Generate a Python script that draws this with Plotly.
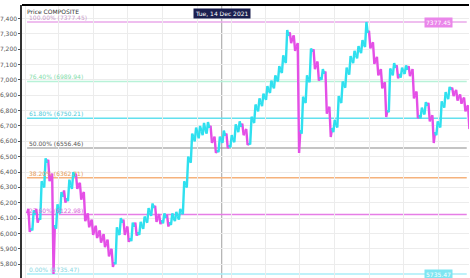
import pandas as pd
import plotly.graph_objects as go

# ---------------- data (weekly OHLC) ----------------
week_start = "2021-01-04"
n_weeks = 112
opens = [6130, 6035, 6120, 6100, 6315, 6459, 6367, 6055, 6152, 6237,
         6231, 6315, 6367, 6315, 6250, 6100, 6068, 6022, 5996, 5970,
         5937, 5879, 5814, 6009, 6068, 6022, 5970, 6042, 6009, 6048,
         6087, 6139, 6165, 6100, 6087, 6100, 6074, 6100, 6113, 6139,
         6315, 6478, 6628, 6654, 6667, 6674, 6687, 6609, 6543, 6609,
         6635, 6576, 6609, 6687, 6693, 6661, 6589, 6739, 6817, 6856,
         6889, 6934, 6967, 7006, 7065, 7130, 7286, 7273, 7215, 6674,
         6869, 7000, 7182, 7097, 7019, 7039, 6804, 6687, 6706, 6869,
         6967, 7052, 7130, 7162, 7195, 7234, 7306, 7228, 7130, 7052,
         6967, 6804, 7052, 7078, 7039, 7052, 7065, 7052, 6902, 6771,
         6791, 6830, 6752, 6661, 6706, 6837, 6895, 6934, 6915, 6889,
         6869, 6817]
highs = [6160, 6150, 6160, 6340, 6490, 6480, 6390, 6190, 6270, 6280,
         6350, 6400, 6390, 6330, 6270, 6130, 6090, 6050, 6020, 5995,
         5960, 5900, 6040, 6100, 6090, 6045, 6070, 6070, 6075, 6110,
         6165, 6195, 6180, 6125, 6130, 6120, 6130, 6140, 6160, 6340,
         6500, 6650, 6690, 6700, 6720, 6725, 6700, 6630, 6630, 6670,
         6650, 6640, 6710, 6730, 6715, 6680, 6760, 6840, 6880, 6910,
         6960, 6995, 7030, 7090, 7160, 7325, 7310, 7290, 7240, 6890,
         7030, 7205, 7200, 7120, 7070, 7055, 6825, 6740, 6895, 6990,
         7080, 7155, 7190, 7220, 7260, 7377.45, 7320, 7245, 7150, 7070,
         6985, 7075, 7110, 7095, 7080, 7095, 7090, 7070, 6925, 6820,
         6855, 6850, 6770, 6730, 6860, 6920, 6955, 6950, 6935, 6905,
         6885, 6835]
lows = [6010, 6020, 6070, 6090, 6300, 6340, 5735.47, 6030, 6130, 6200,
        6210, 6290, 6290, 6220, 6080, 6040, 5990, 5970, 5940, 5910,
        5850, 5781, 5800, 5990, 5990, 5945, 5950, 5985, 5990, 6030,
        6070, 6115, 6075, 6060, 6065, 6045, 6055, 6080, 6090, 6125,
        6300, 6460, 6600, 6620, 6640, 6650, 6590, 6524, 6530, 6590,
        6555, 6560, 6595, 6660, 6640, 6576, 6580, 6720, 6795, 6830,
        6870, 6915, 6945, 6990, 7045, 7110, 7240, 7190, 6524, 6650,
        6850, 6985, 7070, 6995, 7000, 6780, 6628, 6660, 6690, 6850,
        6950, 7035, 7110, 7140, 7175, 7215, 7205, 7105, 7030, 6945,
        6758, 6790, 7030, 7010, 7015, 7040, 7025, 6880, 6750, 6750,
        6775, 6730, 6589, 6640, 6690, 6820, 6875, 6895, 6865, 6845,
        6795, 6680]
closes = [6035, 6120, 6100, 6315, 6459, 6367, 6055, 6152, 6237, 6231,
          6315, 6367, 6315, 6250, 6100, 6068, 6022, 5996, 5970, 5937,
          5879, 5814, 6009, 6068, 6022, 5970, 6042, 6009, 6048, 6087,
          6139, 6165, 6100, 6087, 6100, 6074, 6100, 6113, 6139, 6315,
          6478, 6628, 6654, 6667, 6674, 6687, 6609, 6543, 6609, 6635,
          6576, 6609, 6687, 6693, 6661, 6589, 6739, 6817, 6856, 6889,
          6934, 6967, 7006, 7065, 7130, 7286, 7273, 7215, 6674, 6869,
          7000, 7182, 7097, 7019, 7039, 6804, 6687, 6706, 6869, 6967,
          7052, 7130, 7162, 7195, 7234, 7306, 7228, 7130, 7052, 6967,
          6804, 7052, 7078, 7039, 7052, 7065, 7052, 6902, 6771, 6791,
          6830, 6752, 6661, 6706, 6837, 6895, 6934, 6915, 6889, 6869,
          6817, 6706]

swing_low = 5735.47
swing_high = 7377.45
fib_ratios = [0.0, 0.236, 0.382, 0.5, 0.618, 0.764, 1.0]
fib_line_colors = ["#a9eef7", "#e67ee6", "#f5b27c", "#8a8a8a", "#63e0ee", "#b8f2d8", "#eaa8ea"]
fib_text_colors = ["#86d6e2", "#d866d8", "#e69a58", "#555555", "#4cc8d8", "#82dcaa", "#c99ac9"]

y_ticks = list(range(5700, 7401, 100))
x_grid = ["2021-01-01", "2021-03-01", "2021-05-01", "2021-07-01", "2021-09-01",
          "2021-11-01", "2022-01-01", "2022-03-01", "2022-05-01", "2022-07-01",
          "2022-09-01", "2022-11-01", "2023-01-01"]
cursor_date = "2021-12-14"
cursor_label = "Tue, 14 Dec 2021"
series_name = "Price COMPOSITE"

UP = "#2fe0ef"
DOWN = "#e44fe6"

dates = pd.date_range(week_start, periods=n_weeks, freq="7D")

# each week drawn as open -> extreme -> extreme -> close path
up_x, up_y, dn_x, dn_y = [], [], [], []
for d, o, h, l, c in zip(dates, opens, highs, lows, closes):
    xs = [d, d + pd.Timedelta(hours=55), d + pd.Timedelta(hours=113), d + pd.Timedelta(days=7)]
    if c >= o:
        up_x += xs + [None]
        up_y += [o, l, h, c, None]
    else:
        dn_x += xs + [None]
        dn_y += [o, h, l, c, None]

fig = go.Figure()
fig.add_trace(go.Scatter(x=dn_x, y=dn_y, mode="lines", line=dict(color=DOWN, width=2.4),
                         hoverinfo="skip", name=series_name))
fig.add_trace(go.Scatter(x=up_x, y=up_y, mode="lines", line=dict(color=UP, width=2.4),
                         hoverinfo="skip", name=series_name))

levels = [swing_low + r * (swing_high - swing_low) for r in fib_ratios]
for r, v, lc, tc in zip(fib_ratios, levels, fib_line_colors, fib_text_colors):
    fig.add_shape(type="line", xref="x", yref="y", x0=dates[0], x1=dates[-1],
                  y0=v, y1=v, line=dict(color=lc, width=1.6 if r != 0.5 else 1.2),
                  layer="below")
    fig.add_annotation(x=dates[0], y=v, xref="x", yref="y", xanchor="left",
                       yanchor="bottom", showarrow=False, yshift=-1,
                       text=f"{r*100:.2f}% ({v:.2f})",
                       font=dict(size=6, color=tc, family="DejaVu Sans"))

# crosshair
fig.add_shape(type="line", xref="x", yref="paper", x0=cursor_date, x1=cursor_date,
              y0=0, y1=1, line=dict(color="#a0a0a0", width=1), layer="below")
fig.add_annotation(x=cursor_date, y=1, xref="x", yref="paper", yanchor="top",
                   yshift=-3, showarrow=False, text=cursor_label,
                   bgcolor="#1c2050", borderpad=1,
                   font=dict(size=6, color="white", family="DejaVu Sans"))

# right price boxes
fig.add_annotation(x=0.965, y=swing_high, xref="paper", yref="y", showarrow=False,
                   text=f"{swing_high:.2f}", bgcolor="#ea86ea", borderpad=1,
                   font=dict(size=6, color="white", family="DejaVu Sans"))
fig.add_annotation(x=0.965, y=swing_low, xref="paper", yref="y", showarrow=False,
                   text=f"{swing_low:.2f}", bgcolor="#7fe6f2", borderpad=1,
                   font=dict(size=6, color="white", family="DejaVu Sans"))

# series label
fig.add_annotation(x=0.006, y=1, xref="paper", yref="paper", xanchor="left",
                   yanchor="top", yshift=-1, showarrow=False, text=series_name,
                   font=dict(size=6, color="#333333", family="DejaVu Sans"))

# top frame line
fig.add_shape(type="line", xref="paper", yref="paper", x0=0, x1=1, y0=1, y1=1,
              line=dict(color="black", width=2))

fig.update_layout(
    width=470, height=278,
    margin=dict(l=22, r=1, t=5, b=0, autoexpand=False),
    plot_bgcolor="white", paper_bgcolor="white",
    showlegend=False,
    xaxis=dict(type="date", range=["2020-12-26", "2023-02-24"], automargin=False,
               showticklabels=False,
               tickvals=x_grid, showgrid=True, gridcolor="#ececec",
               gridwidth=1, zeroline=False, ticks=""),
    yaxis=dict(range=[5709.4, 7488.2], tickvals=y_ticks, automargin=False,
               ticktext=[f"{v:,}" for v in y_ticks],
               tickfont=dict(size=6, color="#555555", family="DejaVu Sans"),
               ticks="outside", ticklen=2, tickcolor="#555555",
               showgrid=True, gridcolor="#ececec", zeroline=False,
               showline=True, linecolor="#333333", linewidth=1.5),
)

fig.write_html(
    "out.html",
    config={"displayModeBar": False},
    post_script="document.body.style.margin='0';document.body.style.overflow='hidden';",
)
